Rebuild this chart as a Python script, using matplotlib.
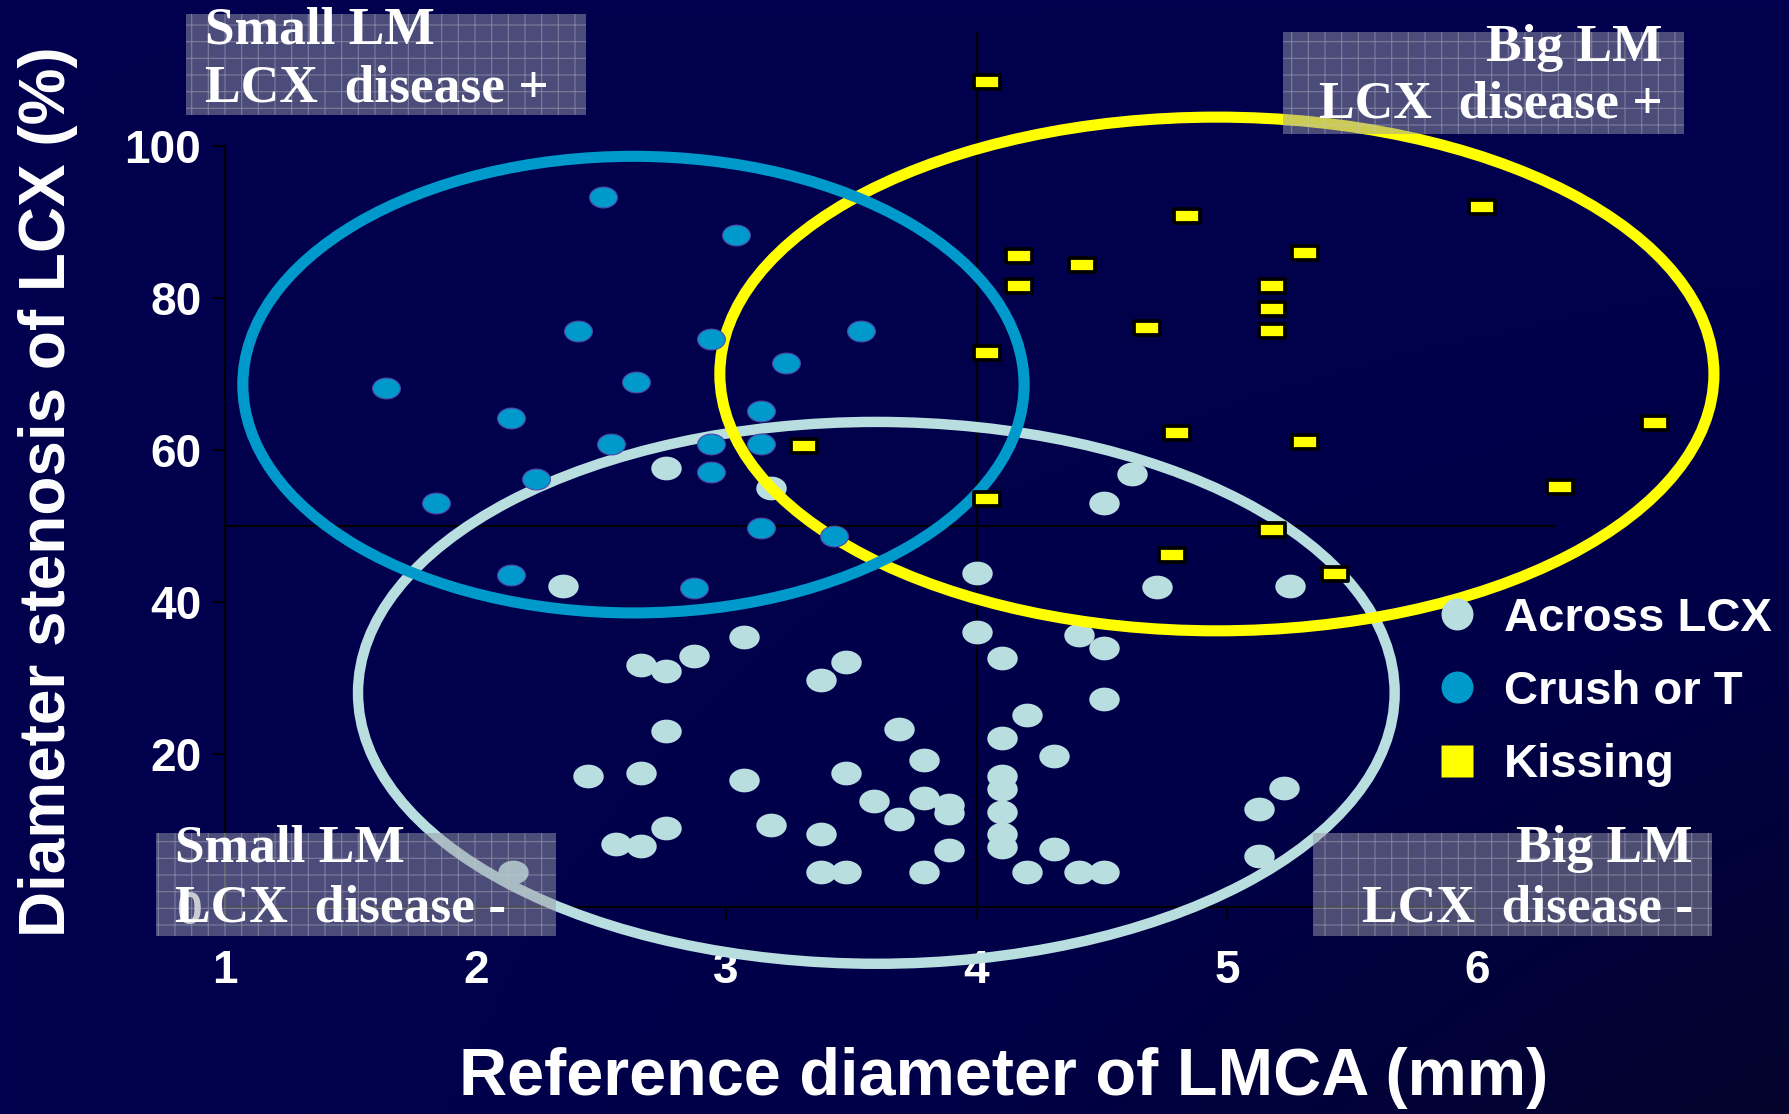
import numpy as np
import matplotlib.pyplot as plt
from matplotlib.patches import Ellipse, Rectangle
from matplotlib.lines import Line2D
from matplotlib.colors import LinearSegmentedColormap

plt.rcParams['font.family'] = ['Liberation Sans', 'DejaVu Sans']
plt.rcParams['font.weight'] = 'bold'
plt.rcParams['axes.labelweight'] = 'bold'
plt.rcParams['hatch.linewidth'] = 0.8

# --- data ---
across_x = [2.76, 3.18, 2.35, 3.07, 2.87, 2.66, 2.76, 2.76, 2.45, 2.66, 3.07, 3.18, 2.76, 2.56, 2.66, 2.15,
            4.51, 4.62, 4.00, 4.72, 4.00, 4.41, 4.51, 4.10, 3.48, 3.38, 4.51, 4.20, 3.69, 4.10, 4.31, 3.79,
            3.48, 4.10, 4.10, 3.59, 3.79, 3.89, 3.89, 4.10, 3.69, 3.38, 4.10, 4.10, 3.89, 4.31, 3.38, 3.48,
            3.79, 4.20, 4.41, 4.51, 5.25, 5.23, 5.13, 5.13]
across_y = [57.7, 55.0, 42.2, 35.5, 32.9, 31.7, 31.0, 23.1, 17.2, 17.6, 16.6, 10.8, 10.4, 8.3, 8.0, 4.6,
            53.0, 56.8, 43.9, 42.0, 36.1, 35.7, 34.0, 32.7, 32.2, 29.8, 27.3, 25.2, 23.4, 22.2, 19.8, 19.3,
            17.6, 17.2, 15.5, 13.9, 14.3, 13.4, 12.3, 12.5, 11.5, 9.5, 9.6, 7.9, 7.5, 7.6, 4.5, 4.5,
            4.5, 4.5, 4.5, 4.5, 42.2, 15.6, 12.8, 6.6]

crush_x = [2.51, 3.04, 2.41, 2.94, 3.24, 2.64, 1.64, 2.14, 3.14, 2.54, 2.94, 3.14, 2.94, 2.24, 1.84,
           3.14, 2.14, 2.87, 3.43, 3.54]
crush_y = [93.3, 88.2, 75.7, 74.6, 71.5, 69.0, 68.1, 64.2, 65.1, 60.8, 60.8, 60.8, 57.1, 56.2, 53.0,
           49.7, 43.6, 41.9, 48.7, 75.6]

kissing_x = [4.04, 4.84, 4.17, 4.42, 4.17, 4.68, 4.04, 4.80, 3.31, 4.04, 6.02, 5.31, 5.18, 5.18, 5.18,
             5.31, 6.71, 6.33, 5.18, 5.43, 4.78]
kissing_y = [108.4, 90.7, 85.5, 84.3, 81.6, 76.1, 72.8, 62.2, 60.6, 53.6, 91.9, 85.9, 81.6, 78.5, 75.6,
             61.0, 63.5, 55.2, 49.5, 43.7, 46.2]

group_names = ['Across LCX', 'Crush or T', 'Kissing']
group_colors = ['#B8DEE0', '#0099CC', '#FFFF00']

# hand-drawn outline around each group: centre x, centre y, width, height
outline_cx = [3.60, 2.63, 4.96]
outline_cy = [28.1, 68.6, 70.0]
outline_w = [4.14, 3.12, 3.97]
outline_h = [71.2, 60.0, 67.5]

x_ticks = [1, 2, 3, 4, 5, 6]
y_ticks = [0, 20, 40, 60, 80, 100]
x_label = 'Reference diameter of LMCA (mm)'
y_label = 'Diameter stenosis of LCX (%)'

corner_titles = ['Small LM', 'Big LM', 'Small LM', 'Big LM']
corner_subtitles = ['LCX  disease +', 'LCX  disease +', 'LCX  disease -', 'LCX  disease -']

# --- figure ---
W, H = 1789, 1114
fig = plt.figure(figsize=(W / 100, H / 100), dpi=100)

# dark navy slide background, darker towards the bottom right
bg = fig.add_axes([0, 0, 1, 1], zorder=-10)
xx, yy = np.meshgrid(np.linspace(0, 1, 300), np.linspace(0, 1, 300))
cmap = LinearSegmentedColormap.from_list('slide', ['#00004E', '#000048', '#04042C'])
bg.imshow(np.clip(xx * yy, 0, 1), cmap=cmap, aspect='auto', extent=(0, 1, 0, 1), origin='upper')
bg.axis('off')

ax = fig.add_axes([225.3 / W, 207.3 / H, 1502.4 / W, 875.2 / H])
ax.set_xlim(1, 7)
ax.set_ylim(0, 115)
ax.patch.set_alpha(0)


def oval(aspect):
    th = np.linspace(0, 2 * np.pi, 60)
    return np.column_stack([np.cos(th), aspect * np.sin(th)])


rect_marker = [(-1, -0.56), (1, -0.56), (1, 0.56), (-1, 0.56), (-1, -0.56)]

ax.scatter(across_x, across_y, s=480, marker=oval(0.78), c=group_colors[0], linewidths=0, zorder=2)

lws = [7.5, 8, 8]
zs = [3, 5, 4]
for i in range(3):
    ax.add_patch(Ellipse((outline_cx[i], outline_cy[i]), outline_w[i], outline_h[i], fill=False,
                         edgecolor=group_colors[i], linewidth=lws[i], zorder=zs[i], clip_on=False))

ax.scatter(crush_x, crush_y, s=400, marker=oval(0.75), c=group_colors[1], edgecolors='#5048A8',
           linewidths=0.8, zorder=6)
ax.scatter(kissing_x, kissing_y, s=340, marker=rect_marker, c=group_colors[2], edgecolors='black',
           linewidths=2.7, zorder=7)

# quadrant dividers
ax.axhline(50, xmin=0, xmax=(6.31 - 1) / 6, color='black', lw=1.5, zorder=1)
ax.axvline(4, color='black', lw=1.5, zorder=1)

for s in ['top', 'right']:
    ax.spines[s].set_visible(False)
ax.spines['left'].set_bounds(0, 100)
ax.spines['bottom'].set_bounds(1, 6)
for s in ['left', 'bottom']:
    ax.spines[s].set_color('black')
    ax.spines[s].set_linewidth(1.5)

ax.set_xticks(x_ticks)
ax.set_yticks(y_ticks)
ax.tick_params(axis='x', length=8.6, width=1.5, color='black', pad=22, labelsize=33, labelcolor='white')
ax.tick_params(axis='y', length=8.3, width=1.5, color='black', pad=9, labelsize=33, labelcolor='white')

ax.set_xlabel(x_label, fontsize=48, color='white', va='center')
ax.xaxis.set_label_coords(0.518, -0.196)
ax.set_ylabel(y_label, fontsize=46, color='white', va='center')
ax.yaxis.set_label_coords(-0.118, 0.474)

handles = [Line2D([], [], ls='none', marker=m, ms=23, mfc=c, mec='none')
           for m, c in zip(['o', 'o', 's'], group_colors)]
ax.legend(handles, group_names, loc='center left', bbox_to_anchor=(1438 / W, 1 - 692 / H),
          bbox_transform=fig.transFigure, frameon=False, prop={'size': 34, 'weight': 'bold'},
          handlelength=0.8, handletextpad=0.6, labelspacing=0.62, borderpad=0, borderaxespad=0,
          labelcolor='white')

# corner boxes (pixel layout: left, top, right, bottom)
boxes = [(186, 14, 586, 115), (1283, 32, 1684, 134), (156, 833, 556, 936), (1313, 833, 1712, 936)]
text_pos = [('left', 205, 43.6, 101), ('right', 1663, 61.4, 118), ('left', 175, 862, 921),
            ('right', 1693, 862, 921)]
for (x0, y0, x1, y1), (ha, tx, b1, b2), t1, t2 in zip(boxes, text_pos, corner_titles, corner_subtitles):
    fig.add_artist(Rectangle((x0 / W, 1 - y1 / H), (x1 - x0) / W, (y1 - y0) / H,
                             transform=fig.transFigure, facecolor=(0.6, 0.6, 0.66, 0.5),
                             edgecolor=(0.78, 0.78, 0.82, 0.4), lw=0, hatch='+', zorder=5))
    for line, b in [(t1, b1), (t2, b2)]:
        fig.text(tx / W, 1 - b / H, line, ha=ha, va='baseline', fontsize=38.5,
                 family=['Liberation Serif'], weight='bold', color='white', zorder=6)

fig.savefig('out.png', dpi=100)
